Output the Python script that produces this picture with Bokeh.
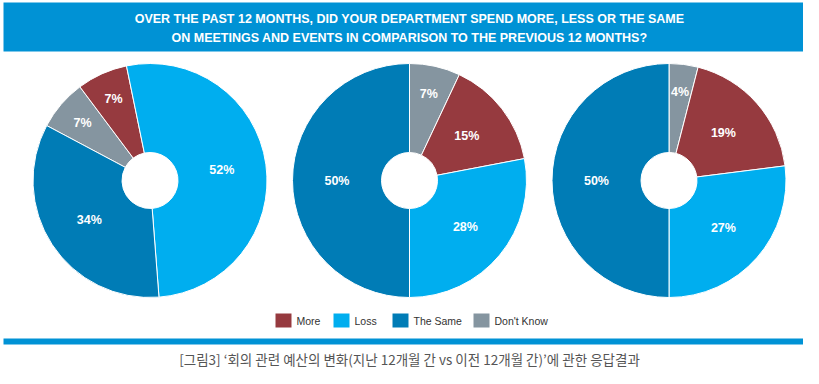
import math
from bokeh.plotting import figure
from bokeh.models import Range1d
from bokeh.core.properties import value
from bokeh.embed import file_html
from bokeh.resources import INLINE

# ---------------- data ----------------
categories = ["More", "Loss", "The Same", "Don't Know"]
colors = ["#963A3F", "#00AEEF", "#007CB6", "#8595A0"]
pie1_values = [7, 52, 34, 7]
pie2_values = [15, 28, 50, 7]
pie3_values = [19, 27, 50, 4]
title_lines = [
    "OVER THE PAST 12 MONTHS, DID YOUR DEPARTMENT SPEND MORE, LESS OR THE SAME",
    "ON MEETINGS AND EVENTS IN COMPARISON TO THE PREVIOUS 12 MONTHS?",
]
caption = "[그림3] \u2018회의 관련 예산의 변화(지난 12개월 간 vs 이전 12개월 간)\u2019에 관한 응답결과"

# ---------------- style / layout ----------------
W, H = 803, 368
H_PAGE = 384
SHIFT_UP = 5
FONT = "Liberation Sans"
KFONT = "Noto Sans CJK KR"
BANNER = "#0092D5"


def sy(y_screen):
    return H_PAGE - y_screen


top = H_PAGE - SHIFT_UP
p = figure(width=W, height=H, x_range=Range1d(0, W), y_range=Range1d(top - H, top),
           output_backend="svg", toolbar_location=None, min_border=0,
           x_axis_location=None, y_axis_location=None)
p.grid.visible = False
p.outline_line_color = None
p.background_fill_color = "white"
p.border_fill_color = "white"

# banner
p.quad(left=3, right=816, top=sy(7), bottom=sy(56), fill_color=BANNER, line_color=None)
for i, line in enumerate(title_lines):
    p.text(x=[409], y=[sy(23 + i * 19.5)], text=[line], text_color="white",
           text_font=value(FONT), text_font_style="bold", text_font_size="12.5px",
           text_align="center", text_baseline="middle")

# donuts
R, R_IN = 117, 28
centers = [(149.5, 185), (409, 185), (668.5, 185)]
dk_start = [-62, 0, 0]          # clockwise degrees from top where "Don't Know" begins
draw_order = [3, 0, 1, 2]
for vals, (cx, cyS), off in zip([pie1_values, pie2_values, pie3_values], centers, dk_start):
    cy = sy(cyS)
    cum = off
    sa, ea, fc, lx, ly, lt = [], [], [], [], [], []
    for idx in draw_order:
        v = vals[idx]
        t1, t2 = cum, cum + v * 3.6
        sa.append(math.radians(90 - t2))
        ea.append(math.radians(90 - t1))
        fc.append(colors[idx])
        mid = math.radians((t1 + t2) / 2)
        rl = R * (0.62 if v >= 10 else 0.76)
        lx.append(cx + rl * math.sin(mid))
        ly.append(cy + rl * math.cos(mid))
        lt.append(f"{v}%")
        cum = t2
    p.annular_wedge(x=cx, y=cy, inner_radius=R_IN, outer_radius=R, start_angle=sa,
                    end_angle=ea, fill_color=fc, line_color="white", line_width=1)
    p.text(x=lx, y=ly, text=lt, text_color="white", text_font=value(FONT),
           text_font_style="bold", text_font_size="12.5px", text_align="center",
           text_baseline="middle")

# legend
leg_left = [275, 333, 392, 473]
for i, cat in enumerate(categories):
    p.rect(x=[leg_left[i] + 8], y=[sy(325)], width=16, height=14,
           fill_color=colors[i], line_color=None)
    p.text(x=[leg_left[i] + 21], y=[sy(325)], text=[cat], text_color="#333333",
           text_font=value(FONT), text_font_size="10.5px", text_align="left",
           text_baseline="middle")

# bottom rule and caption
p.quad(left=3, right=816, top=sy(343), bottom=sy(349), fill_color=BANNER, line_color=None)
p.text(x=[409], y=[sy(363)], text=[caption], text_color="#555555",
       text_font=value(KFONT), text_font_size="13.5px", text_align="center",
       text_baseline="middle")

open("out.html", "w").write(file_html(p, INLINE))
